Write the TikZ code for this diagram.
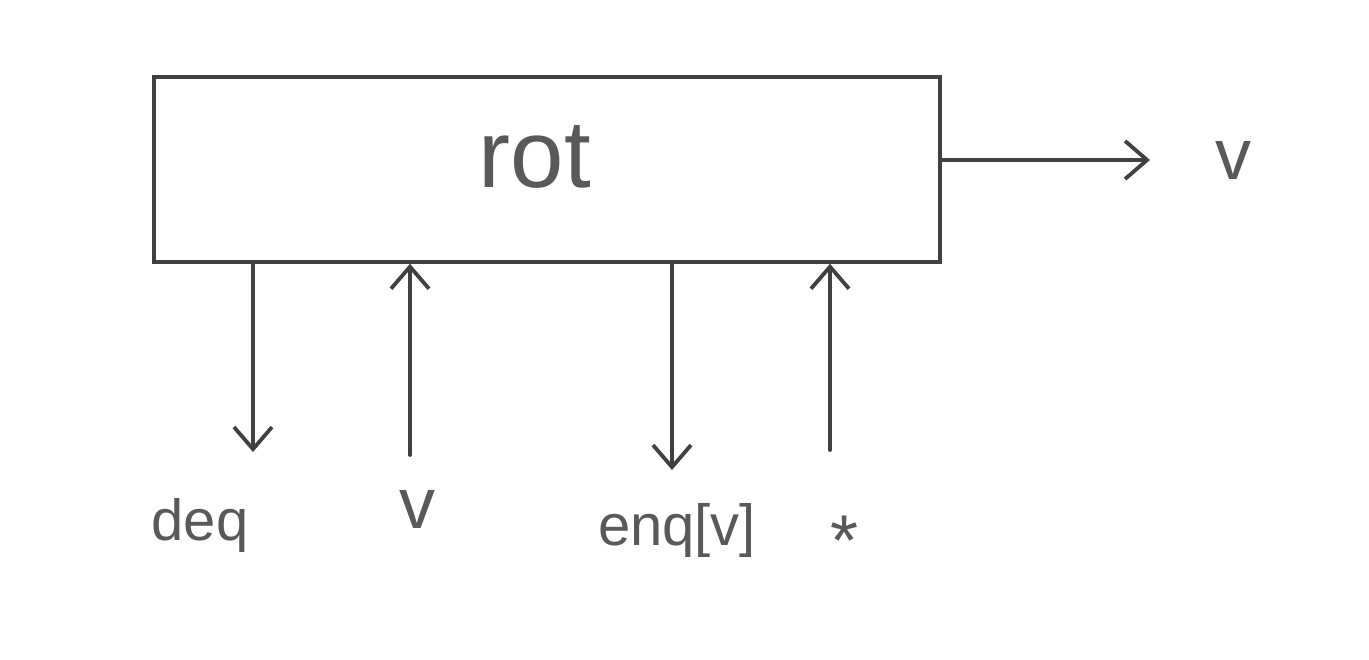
\documentclass[tikz,border=0pt]{standalone}
\usepackage{fontspec}
\setmainfont{Liberation Sans}
\usetikzlibrary{arrows.meta}
\definecolor{pencil}{gray}{0.25}
\definecolor{lead}{gray}{0.35}
\tikzset{
  wire/.style={draw=pencil, line width=3.8pt, line cap=round,
    -{Straight Barb[length=22pt,width=38pt,line width=3.8pt]}},
  lbl/.style={text=lead, font=\fontsize{58}{70}\selectfont, inner sep=0pt, anchor=base},
  biglbl/.style={lbl, font=\fontsize{72}{86}\selectfont},
}
\begin{document}
\begin{tikzpicture}[x=1pt,y=-1pt]
\useasboundingbox (0,0) rectangle (1369,660);
\node[draw=pencil, line width=3.8pt, minimum width=786pt, minimum height=185pt, inner sep=0pt, anchor=north west]
  (box) at (152,75) {};
\node[text=lead, font=\fontsize{96}{110}\selectfont, anchor=base] (rot) at (535,188) {rot};
% output
\node[biglbl] (vout) at (1233,180) {v};
\coordinate (oend) at (1150,160);
\draw[wire] (box.east |- oend) -- (oend);
% bottom
\node[lbl] (deq) at (200,540) {deq};
\node[biglbl] (vin) at (417,528) {v};
\node[lbl] (enq) at (677,545) {enq[v]};
\node[biglbl] (star) at (845,565) {*};
\coordinate (d1) at (253,452);
\coordinate (u1) at (410,455);
\coordinate (d2) at (672,470);
\coordinate (u2) at (830,450);
\draw[wire] (box.south -| d1) -- (d1);
\draw[wire] (u1) -- (box.south -| u1);
\draw[wire] (box.south -| d2) -- (d2);
\draw[wire] (u2) -- (box.south -| u2);
\end{tikzpicture}
\end{document}
